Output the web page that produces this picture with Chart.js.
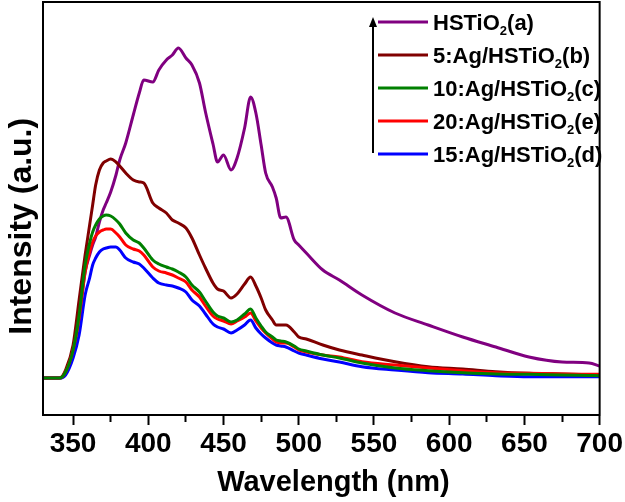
<!DOCTYPE html>
<html>
<head>
<meta charset="utf-8">
<script src="https://cdn.jsdelivr.net/npm/chart.js@4.4.1/dist/chart.umd.min.js"></script>
<style>
  body { margin: 0; background: #fff; }
  #plot { display: block; }
</style>
</head>
<body>
<canvas id="plot" width="625" height="502"></canvas>
<script>
// wavelength grid (nm) and intensities (arbitrary units)
const wavelength = [330, 341, 345, 350, 354, 358, 361, 363, 365, 367.5, 370, 372, 375, 378.5, 381, 385, 390, 394, 397, 403,
    407, 412, 416, 420, 425, 429, 434, 438, 443, 446, 450, 455, 459, 464, 468, 471.5, 475, 478, 482.5, 485,
    488, 491.5, 497, 500, 505, 516, 527, 542, 564, 586, 609, 631, 653, 675, 693, 700];

const intA = [0, 0, 6, 28, 60, 106, 123, 133, 141, 156, 168, 175, 186, 203, 218, 235, 263, 285, 298, 296,
    308, 318, 323, 330, 320, 313, 295, 266, 234, 216, 223, 208, 220, 250, 281, 265, 233, 205, 191, 180,
    160, 161, 138, 133, 125, 108, 98, 83, 65, 53, 41, 31, 21, 16, 15, 12];
const intB = [0, 0, 8, 33, 78, 123, 153, 173, 193, 208, 215, 217, 219, 216, 212, 205, 198, 196, 195, 175,
    170, 165, 158, 155, 150, 140, 123, 110, 95, 89, 87, 80, 84, 94, 101, 92, 80, 68, 58, 53,
    53, 53, 46, 41, 39, 33, 28, 23, 16.3, 11.3, 9, 6.3, 4.7, 4, 3.5, 3];
const intC = [0, 0, 6, 28, 63, 113, 135, 146, 153, 159, 162, 163, 162, 158, 154, 145, 138, 135, 130, 118,
    114, 111, 109, 106, 101, 93, 86, 77, 66, 62, 60, 56, 58, 64, 69, 60, 52, 46, 41, 38,
    37, 36, 32, 29, 27, 23, 20, 15, 10, 7.3, 5.3, 4, 3.7, 3, 2.5, 2.3];
const intE = [0, 0, 6, 28, 60, 106, 126, 136, 142, 146, 148, 149, 149, 145, 141, 133, 129, 127, 123, 111,
    107, 105, 103, 100, 96, 88, 81, 72, 62, 59, 57, 54, 57, 61, 65, 57, 50, 45, 39, 36,
    35, 35, 31, 28, 26, 23, 21, 16.3, 13, 10, 7.3, 5.3, 4.7, 4, 3.7, 3.7];
const intD = [0, 0, 3, 20, 43, 83, 100, 113, 120, 126, 129, 130, 131, 131, 128, 120, 116, 114, 110, 100,
    95, 93, 92, 90, 86, 78, 72, 64, 54, 51, 49, 45, 48, 53, 58, 50, 44, 40, 35, 33,
    32, 31, 27, 25, 23, 19, 16, 11.3, 8, 5.3, 4, 2.3, 1.3, 1.3, 1.3, 1.3];

const seriesNames = ['HSTiO₂(a)', '5:Ag/HSTiO₂(b)', '10:Ag/HSTiO₂(c)', '20:Ag/HSTiO₂(e)', '15:Ag/HSTiO₂(d)'];
const seriesColors = ['#800080', '#800000', '#008000', '#ff0000', '#0000ff'];
const seriesValues = [intA, intB, intC, intE, intD];
const drawOrder = [4, 3, 0, 1, 2]; // green on top, purple at the back

const majorTicks = [350, 400, 450, 500, 550, 600, 650, 700];
const minorTicks = [375, 425, 475, 525, 575, 625, 675];

const FONT = '"Liberation Sans", Arial, sans-serif';

function toPoints(values) {
    return wavelength.map((w, i) => ({ x: w, y: values[i] }));
}

// frame round the plot area
const frame = {
    id: 'frame',
    afterDraw(chart) {
        const a = chart.chartArea;
        const ctx = chart.ctx;
        ctx.save();
        ctx.strokeStyle = '#000';
        ctx.lineWidth = 2;
        ctx.strokeRect(a.left, a.top, a.right - a.left, a.bottom - a.top);
        ctx.restore();
    }
};

// legend inside the plot, with subscripts and the up arrow
const insideLegend = {
    id: 'insideLegend',
    afterDraw(chart) {
        const ctx = chart.ctx;
        const x0 = 378, rowTop = 22, rowGap = 33;
        ctx.save();
        chart.data.datasets.forEach((ds, i) => {
            const y = rowTop + i * rowGap;
            ctx.strokeStyle = ds.borderColor;
            ctx.lineWidth = 3;
            ctx.beginPath();
            ctx.moveTo(x0, y);
            ctx.lineTo(x0 + 50, y);
            ctx.stroke();

            const parts = ds.label.split('₂');
            let x = x0 + 55;
            ctx.fillStyle = '#000';
            ctx.textBaseline = 'alphabetic';
            ctx.font = 'bold 22px ' + FONT;
            ctx.fillText(parts[0], x, y + 8);
            x += ctx.measureText(parts[0]).width;
            ctx.font = 'bold 13px ' + FONT;
            ctx.fillText('2', x, y + 13);
            x += ctx.measureText('2').width;
            ctx.font = 'bold 22px ' + FONT;
            ctx.fillText(parts[1], x, y + 8);
        });
        // arrow
        ctx.strokeStyle = '#000';
        ctx.fillStyle = '#000';
        ctx.lineWidth = 2;
        ctx.beginPath();
        ctx.moveTo(373, 153);
        ctx.lineTo(373, 24);
        ctx.stroke();
        ctx.beginPath();
        ctx.moveTo(373, 17);
        ctx.lineTo(369, 27);
        ctx.lineTo(377, 27);
        ctx.closePath();
        ctx.fill();
        ctx.restore();
    }
};

const ctx = document.getElementById('plot').getContext('2d');
new Chart(ctx, {
    type: 'line',
    data: {
        datasets: seriesNames.map((name, i) => ({
            label: name,
            data: toPoints(seriesValues[i]),
            borderColor: seriesColors[i],
            backgroundColor: seriesColors[i],
            borderWidth: 3,
            pointRadius: 0,
            cubicInterpolationMode: 'monotone',
            order: drawOrder[i]
        }))
    },
    options: {
        responsive: false,
        animation: false,
        layout: { padding: { top: 2, right: 25, left: 0, bottom: 0 } },
        plugins: {
            legend: { display: false },
            tooltip: { enabled: false }
        },
        scales: {
            x: {
                type: 'linear',
                min: 330,
                max: 700,
                afterBuildTicks: (scale) => { scale.ticks = majorTicks.map(v => ({ value: v })); },
                afterFit: (scale) => { scale.height = 87; },
                ticks: {
                    color: '#000',
                    padding: 2,
                    maxRotation: 0,
                    font: { size: 28, weight: 'bold', family: FONT },
                    callback: (v) => v
                },
                grid: { drawOnChartArea: false, tickLength: 10, tickWidth: 2, tickColor: '#000' },
                border: { color: '#000', width: 2 },
                title: {
                    display: true,
                    // leading spaces nudge the centred title right, as in the figure
                    text: '   Wavelength (nm)',
                    color: '#000',
                    font: { size: 29, weight: 'bold', family: FONT },
                    padding: { top: 0, bottom: 2 }
                }
            },
            xMinor: {
                type: 'linear',
                axis: 'x',
                position: { y: -37 },
                min: 330,
                max: 700,
                afterBuildTicks: (scale) => { scale.ticks = minorTicks.map(v => ({ value: v })); },
                ticks: { display: false },
                grid: { drawOnChartArea: false, tickLength: 7, tickWidth: 2, tickColor: '#000' },
                border: { display: false }
            },
            y: {
                min: -37,
                max: 376,
                afterFit: (scale) => { scale.width = 43; },
                ticks: { display: false },
                grid: { display: false },
                border: { color: '#000', width: 2 },
                title: {
                    display: true,
                    // trailing spaces push the label a little lower
                    text: 'Intensity (a.u.)    ',
                    color: '#000',
                    font: { size: 32, weight: 'bold', family: FONT },
                    padding: { top: 3, bottom: 0 }
                }
            }
        }
    },
    plugins: [frame, insideLegend]
});
</script>
</body>
</html>
